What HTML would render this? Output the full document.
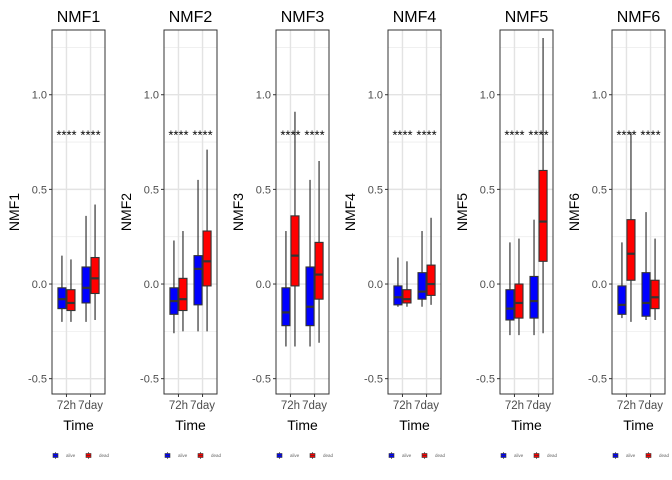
<!DOCTYPE html>
<html><head><meta charset="utf-8"><style>
html,body{margin:0;padding:0;background:#fff;}
svg{display:block;font-family:"Liberation Sans",Arial,sans-serif;}
</style></head><body>
<svg id="chart" width="672" height="480" viewBox="0 0 672 480" xmlns="http://www.w3.org/2000/svg"></svg>
<script>
const panels = ["NMF1","NMF2","NMF3","NMF4","NMF5","NMF6"];
const categories = ["72h","7day"];
const groups = ["alive","dead"];
const groupColors = ["#0000FF","#FF0000"];
const yTicks = [-0.5,0,0.5,1.0];
const yTickLabels = ["-0.5","0.0","0.5","1.0"];
const yMinor = [-0.25,0.25,0.75,1.25];
const sigLabels = ["****","****"];
// stats per panel: [category][group] = [lo, q1, med, q3, hi]
const statsNMF1 = [[[-0.2,-0.13,-0.08,-0.02,0.15],[-0.2,-0.14,-0.1,-0.03,0.13]],[[-0.2,-0.1,-0.02,0.09,0.36],[-0.19,-0.05,0.03,0.14,0.42]]];
const statsNMF2 = [[[-0.26,-0.16,-0.09,-0.02,0.23],[-0.25,-0.14,-0.08,0.03,0.28]],[[-0.25,-0.11,0.08,0.15,0.55],[-0.25,-0.01,0.12,0.28,0.71]]];
const statsNMF3 = [[[-0.33,-0.22,-0.15,-0.02,0.28],[-0.33,-0.01,0.15,0.36,0.91]],[[-0.33,-0.22,-0.12,0.09,0.55],[-0.31,-0.08,0.05,0.22,0.65]]];
const statsNMF4 = [[[-0.12,-0.11,-0.07,-0.01,0.14],[-0.12,-0.1,-0.08,-0.03,0.12]],[[-0.12,-0.08,-0.04,0.06,0.28],[-0.11,-0.06,0.0,0.1,0.35]]];
const statsNMF5 = [[[-0.27,-0.19,-0.13,-0.03,0.22],[-0.27,-0.18,-0.1,0.0,0.24]],[[-0.27,-0.18,-0.09,0.04,0.34],[-0.26,0.12,0.33,0.6,1.3]]];
const statsNMF6 = [[[-0.18,-0.16,-0.11,-0.01,0.22],[-0.2,0.02,0.16,0.34,0.8]],[[-0.19,-0.17,-0.1,0.06,0.38],[-0.19,-0.13,-0.07,0.02,0.24]]];
const allStats = [statsNMF1,statsNMF2,statsNMF3,statsNMF4,statsNMF5,statsNMF6];

const svg = document.getElementById('chart');
const NS = "http://www.w3.org/2000/svg";
function mk(tag, attrs, parent, text){
  const e=document.createElementNS(NS,tag);
  for(const k in attrs) e.setAttribute(k,attrs[k]);
  if(text!==undefined) e.textContent=text;
  parent.appendChild(e); return e;
}
const top0=30, bot0=394, yMaxV=1.342, yMinV=-0.581;
function yScale(v){ return top0 + (yMaxV - v)/(yMaxV - yMinV)*(bot0-top0); }
const panelW=53, step=112, left0=52;

panels.forEach((name,pi)=>{
  const L = left0 + pi*step, R = L+panelW;
  const xScale = c => L + (c + 0.6)/2.2*panelW;
  const g = mk('g',{},svg);
  
  
  mk('rect',{x:L,y:top0,width:panelW,height:bot0-top0,fill:'#fff'},g);
  yMinor.forEach(v=>{ mk('line',{x1:L,x2:R,y1:yScale(v),y2:yScale(v),stroke:'#eeeeee','stroke-width':0.8},g); });
  yTicks.forEach(v=>{ mk('line',{x1:L,x2:R,y1:yScale(v),y2:yScale(v),stroke:'#e3e3e3','stroke-width':1.4},g); });
  categories.forEach((c,ci)=>{ mk('line',{x1:xScale(ci),x2:xScale(ci),y1:top0,y2:bot0,stroke:'#e3e3e3','stroke-width':1.4},g); });
  const bw = 0.75/2*panelW/2.2;
  allStats[pi].forEach((cat,ci)=>{
    cat.forEach((s,gi)=>{
      const cx = xScale(ci) + (gi===0?-bw/2:bw/2);
      const bg = mk('g',{},g);
      
      
      mk('line',{x1:cx,x2:cx,y1:yScale(s[0]),y2:yScale(s[4]),stroke:'#222','stroke-width':1.1},bg);
      mk('rect',{x:cx-bw/2+0.5,y:yScale(s[3]),width:bw-1,height:yScale(s[1])-yScale(s[3]),fill:groupColors[gi],stroke:'#333','stroke-width':1.1},bg);
      mk('line',{x1:cx-bw/2+0.5,x2:cx+bw/2-0.5,y1:yScale(s[2]),y2:yScale(s[2]),stroke:'#333','stroke-width':2.2},bg);
    });
    const st = mk('text',{x:xScale(ci),y:yScale(0.78)+3,'font-size':13,'text-anchor':'middle',fill:'#000'},g,sigLabels[ci]);
    
    
  });
  mk('rect',{x:L,y:top0,width:panelW,height:bot0-top0,fill:'none',stroke:'#333','stroke-width':1},g);
  yTicks.forEach((v,i)=>{
    mk('line',{x1:L-3,x2:L,y1:yScale(v),y2:yScale(v),stroke:'#333','stroke-width':1},g);
    const t=mk('text',{x:L-5,y:yScale(v)+4,'font-size':11,'text-anchor':'end',fill:'#4d4d4d'},g,yTickLabels[i]);
    
    
  });
  categories.forEach((c,ci)=>{
    mk('line',{x1:xScale(ci),x2:xScale(ci),y1:bot0,y2:bot0+3,stroke:'#333','stroke-width':1},g);
    const t=mk('text',{x:xScale(ci),y:bot0+15,'font-size':11.5,'text-anchor':'middle',fill:'#4d4d4d'},g,c);
    
    
  });
  const ttl=mk('text',{x:(L+R)/2,y:22,'font-size':16,'text-anchor':'middle',fill:'#000'},g,name);
  
  
  const yt=mk('text',{x:0,y:0,'font-size':14,'text-anchor':'middle',fill:'#000',transform:`translate(${L-33},${(top0+bot0)/2}) rotate(-90)`},g,name);
  
  
  const xt=mk('text',{x:(L+R)/2,y:430,'font-size':14,'text-anchor':'middle',fill:'#000'},g,'Time');
  
  
  const lg=mk('g',{},g);
  
  
  groups.forEach((gn,gi)=>{
    const kx = L + 1 + gi*33;
    const e=mk('g',{},lg);
    
    
    mk('line',{x1:kx+2.5,x2:kx+2.5,y1:452,y2:459,stroke:'#222','stroke-width':0.6},e);
    mk('rect',{x:kx,y:453.5,width:5,height:4,fill:groupColors[gi],stroke:'#333','stroke-width':0.6},e);
    mk('line',{x1:kx,x2:kx+5,y1:455.5,y2:455.5,stroke:'#333','stroke-width':0.6},e);
    mk('text',{x:kx+13,y:457,'font-size':4.5,fill:'#666'},e,gn);
  });
});
</script>
</body></html>
